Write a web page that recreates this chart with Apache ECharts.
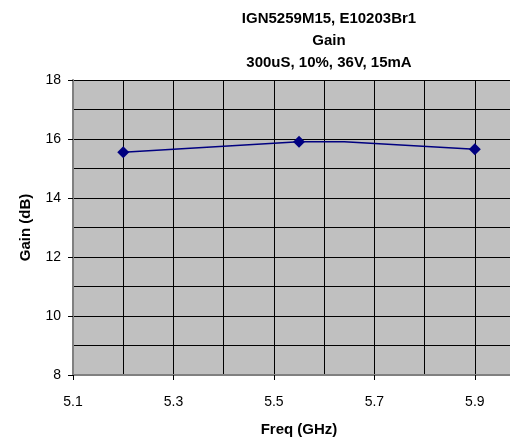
<!DOCTYPE html>
<html>
<head>
<meta charset="utf-8">
<script src="https://cdn.jsdelivr.net/npm/echarts@6/dist/echarts.min.js"></script>
<style>html,body{margin:0;padding:0;background:#fff;}#c{width:510px;height:442px;}</style>
</head>
<body>
<div id="c"></div>
<script>
var titleLines = ['IGN5259M15, E10203Br1', 'Gain', '300uS, 10%, 36V, 15mA'];
var freq = [5.2, 5.55, 5.64, 5.9];
var gain = [15.55, 15.91, 15.91, 15.65];
var showMarker = [true, true, false, true];
var xName = 'Freq (GHz)';
var yName = 'Gain (dB)';

var chart = echarts.init(document.getElementById('c'), null, {renderer: 'canvas'});
var font = 'Liberation Sans, Arial, sans-serif';
var data = freq.map(function (f, i) {
  var d = {value: [f, gain[i]]};
  if (!showMarker[i]) d.symbol = 'none';
  return d;
});
chart.setOption({
  backgroundColor: '#ffffff',
  animation: false,
  title: {
    text: titleLines.join('\n'),
    left: 324, top: 3, textAlign: 'center',
    textStyle: {fontFamily: font, fontSize: 15, fontWeight: 'bold', color: '#000', lineHeight: 22}
  },
  grid: {left: 73, top: 80, width: 437, height: 297, backgroundColor: '#C0C0C0', show: true, borderWidth: 0},
  xAxis: [{
    type: 'value', min: 5.1, max: 5.97, interval: 0.1, position: 'bottom',
    axisLine: {show: false}, axisTick: {show: false}, axisLabel: {show: false},
    splitLine: {show: true, lineStyle: {color: '#000', width: 1}}
  }, {
    type: 'value', min: 5.1, max: 5.97, interval: 0.2, position: 'bottom', offset: 0,
    name: xName, nameLocation: 'middle', nameGap: 47,
    nameTextStyle: {fontFamily: font, fontSize: 15, fontWeight: 'bold', color: '#000', padding: [0, 0, 0, 15]},
    axisLine: {show: true, lineStyle: {color: '#808080', width: 2}},
    axisTick: {show: true, length: 5, lineStyle: {color: '#000'}},
    axisLabel: {fontFamily: font, fontSize: 14, color: '#000', margin: 20, showMaxLabel: false,
      formatter: function (v) { return v.toFixed(1); }},
    splitLine: {show: false}
  }],
  yAxis: {
    type: 'value', min: 8, max: 18, interval: 2,
    name: yName, nameLocation: 'middle', nameGap: 40, nameRotate: 90,
    nameTextStyle: {fontFamily: font, fontSize: 15, fontWeight: 'bold', color: '#000'},
    axisLine: {show: true, lineStyle: {color: '#808080', width: 2}},
    axisTick: {show: true, length: 5, lineStyle: {color: '#000'}},
    axisLabel: {fontFamily: font, fontSize: 14, color: '#000', margin: 12},
    splitLine: {show: true, lineStyle: {color: '#000', width: 1}},
    minorTick: {show: false, splitNumber: 2},
    minorSplitLine: {show: true, lineStyle: {color: '#000', width: 1}}
  },
  series: [{
    type: 'line', xAxisIndex: 0, data: data,
    symbol: 'diamond', symbolSize: 12,
    lineStyle: {color: '#000080', width: 1.5},
    itemStyle: {color: '#000080'}
  }]
});
</script>
</body>
</html>
